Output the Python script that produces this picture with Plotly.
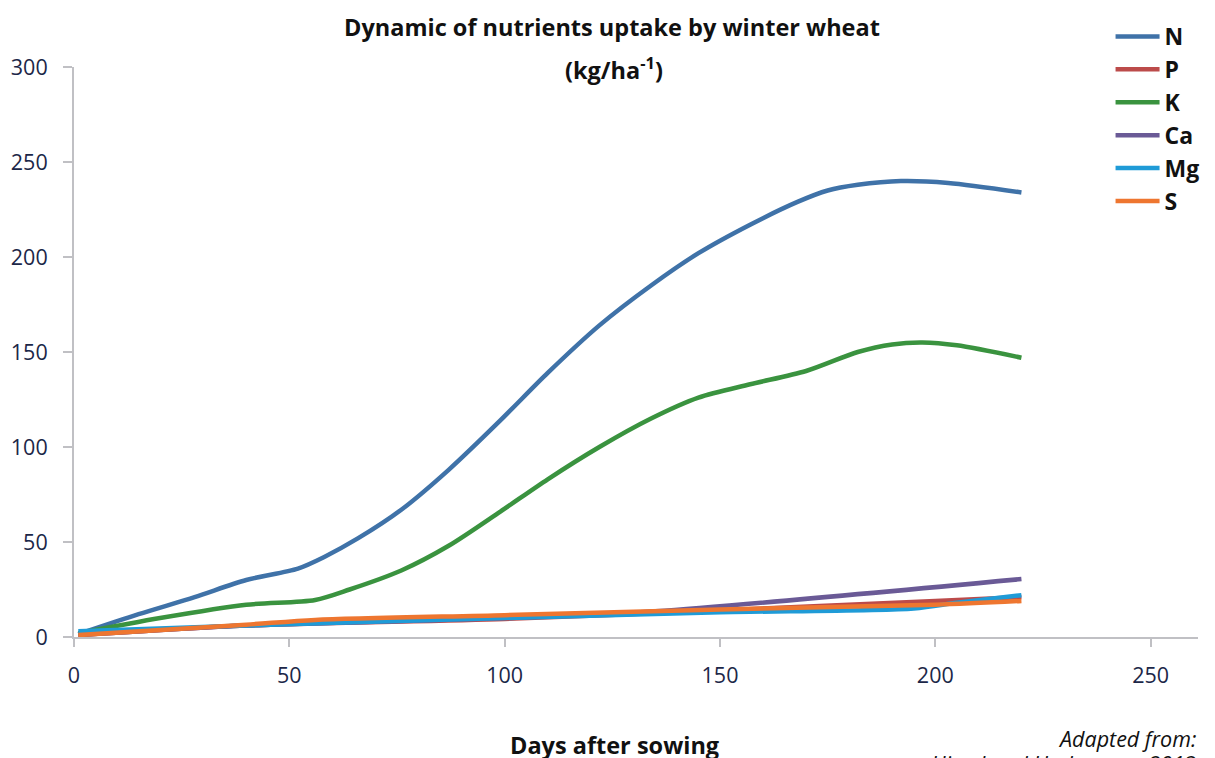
import plotly.graph_objects as go

# ---- data ----
n_days = [1, 15, 28, 40, 52, 58, 66, 76, 87, 99, 110, 122, 134, 145, 157, 168, 175, 182, 192, 203, 220]
n_vals = [1.5, 12, 21, 30, 36, 42, 52, 67, 88, 114, 139, 164, 185, 202, 217, 229, 235, 238, 240, 239, 234]

p_days = [1, 40, 100, 150, 200, 220]
p_vals = [1, 6, 9.5, 14, 19, 21]

k_days = [1, 20, 40, 56, 64, 76, 87, 99, 110, 122, 134, 145, 157, 170, 182, 190, 197, 205, 220]
k_vals = [2, 10, 17, 19.5, 25, 35, 48, 66, 83, 100, 115, 126, 133, 140, 150, 154, 155, 153.5, 147]

ca_days = [1, 40, 100, 135, 220]
ca_vals = [1, 6, 10, 13.5, 30.5]

mg_days = [1, 40, 100, 150, 195, 205, 220]
mg_vals = [3, 6, 10, 13, 15, 18, 22]

s_days = [1, 40, 56, 100, 150, 200, 220]
s_vals = [1, 6.5, 9, 11.5, 14.5, 17, 19]

series = [
    ("N", n_days, n_vals, "#3F72A8"),
    ("P", p_days, p_vals, "#BC4B4A"),
    ("K", k_days, k_vals, "#3A933F"),
    ("Ca", ca_days, ca_vals, "#6A5A96"),
    ("Mg", mg_days, mg_vals, "#1F9BD7"),
    ("S", s_days, s_vals, "#EE7630"),
]

x_ticks = [0, 50, 100, 150, 200, 250]
y_ticks = [0, 50, 100, 150, 200, 250, 300]

fig = go.Figure()
for name, xs, ys, col in series:
    fig.add_trace(go.Scatter(x=xs, y=ys, name=name, mode="lines",
                             line=dict(color=col, width=4.5, shape="spline", smoothing=0.8)))

axis_col = "#C0C0C4"
tick_font = dict(family="Open Sans", size=21.5, color="#1C2748")

fig.update_layout(
    width=1207, height=750,
    margin=dict(l=66, r=17, t=59, b=121, autoexpand=False),
    plot_bgcolor="white", paper_bgcolor="white",
    showlegend=True,
    legend=dict(x=0.9222, y=1.0912, xanchor="left", yanchor="top",
                font=dict(family="Open Sans", size=23, color="#111111", weight="bold"),
                bgcolor="rgba(0,0,0,0)", tracegroupgap=0, itemwidth=44),
    xaxis=dict(range=[0, 261], tickvals=x_ticks, showgrid=False, zeroline=False,
               showline=True, linecolor=axis_col, linewidth=2, automargin=False,
               ticks="outside", ticklen=8, tickwidth=2, tickcolor=axis_col,
               tickfont=tick_font, ticklabelstandoff=10),
    yaxis=dict(range=[0, 300], tickvals=y_ticks, showgrid=False, zeroline=False,
               showline=True, linecolor=axis_col, linewidth=2, automargin=False,
               ticks="outside", ticklen=9, tickwidth=2, tickcolor=axis_col,
               tickfont=tick_font, ticklabelstandoff=11),
    annotations=[
        dict(text="<b>Dynamic of nutrients uptake by winter wheat</b>", xref="paper", yref="paper",
             x=0.5, y=1.0, xshift=-24, yshift=40, xanchor="center", yanchor="middle", showarrow=False,
             font=dict(family="Open Sans", size=23.5, color="#111111")),
        dict(text="<b>(kg/ha<sup>-1</sup>)</b>", xref="paper", yref="paper",
             x=0.5, y=1.0, xshift=-22, yshift=-1, xanchor="center", yanchor="middle", showarrow=False,
             font=dict(family="Open Sans", size=23.5, color="#111111")),
        dict(text="<b>Days after sowing</b>", xref="paper", yref="paper",
             x=0.5, y=0, xshift=-22, yshift=-108, xanchor="center", yanchor="middle", showarrow=False,
             font=dict(family="Open Sans", size=23.5, color="#111111")),
        dict(text="<i>Adapted from:</i>", xref="paper", yref="paper",
             x=1.0, y=0, xshift=0, yshift=-85, xanchor="right", yanchor="top", align="right",
             showarrow=False, font=dict(family="Open Sans", size=21.5, color="#111111")),
        dict(text="<i>Hirzel and Undurraga, 2013</i>", xref="paper", yref="paper",
             x=1.0, y=0, xshift=0, yshift=-110, xanchor="right", yanchor="top", align="right",
             showarrow=False, font=dict(family="Open Sans", size=21.5, color="#111111")),
    ],
)

fig.write_html("out.html")
